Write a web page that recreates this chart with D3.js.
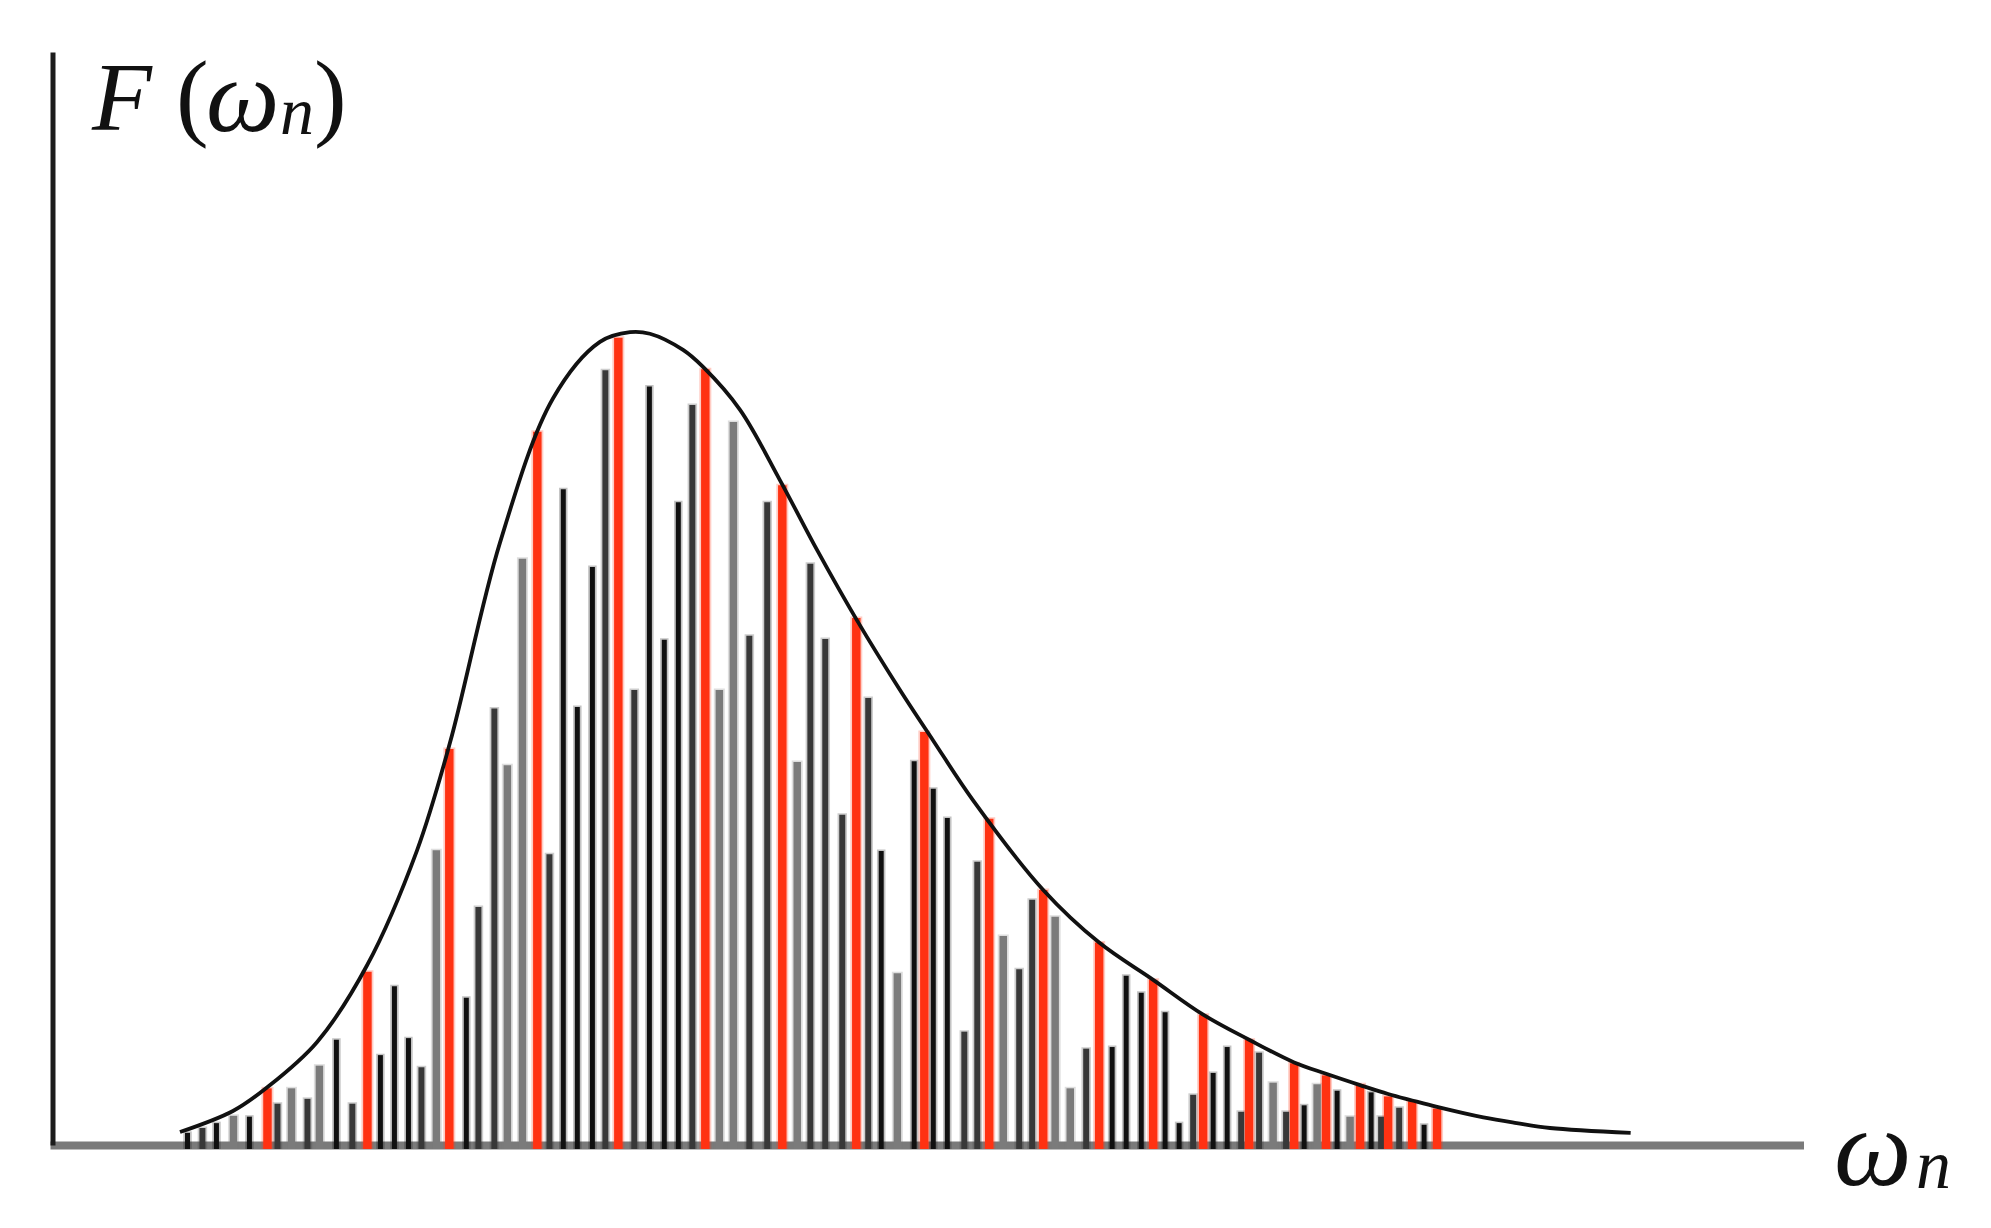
<!DOCTYPE html>
<html>
<head>
<meta charset="utf-8">
<script src="https://cdn.jsdelivr.net/npm/d3@7"></script>
<style>
  body { margin: 0; background: #fff; }
  svg { display: block; }
  .label { font-family: "Liberation Serif", "DejaVu Serif", serif; fill: #111; }
</style>
</head>
<body>
<svg id="chart"></svg>
<script>
// bar positions (omega, axis units 0..100)
const barOmega = [
  7.70, 8.55, 9.35, 10.32, 11.23, 12.26, 12.83, 13.63, 14.54, 15.22,
  16.19, 17.10, 17.96, 18.70, 19.50, 20.30, 21.04, 21.89, 22.63, 23.60,
  24.29, 25.20, 25.94, 26.80, 27.65, 28.34, 29.13, 29.93, 30.79, 31.53,
  32.27, 33.18, 34.04, 34.89, 35.69, 36.49, 37.23, 38.03, 38.83, 39.74,
  40.76, 41.62, 42.47, 43.22, 44.07, 45.04, 45.84, 46.52, 47.26, 48.18,
  49.14, 49.72, 50.23, 51.03, 52.00, 52.74, 53.42, 54.22, 55.13, 55.87,
  56.50, 57.18, 58.04, 58.95, 59.69, 60.43, 61.23, 62.09, 62.77, 63.45,
  64.25, 65.05, 65.62, 66.19, 66.99, 67.79, 68.24, 68.81, 69.61, 70.35,
  70.81, 71.38, 72.12, 72.63, 73.26, 74.00, 74.57, 75.20, 75.77, 76.17,
  76.80, 77.54, 78.22, 78.96
];
// bar heights F(omega_n), peak of the envelope ~ 1
const barHeight = [
  0.015, 0.021, 0.027, 0.036, 0.035, 0.070, 0.051, 0.070, 0.057, 0.098,
  0.130, 0.051, 0.214, 0.111, 0.196, 0.132, 0.096, 0.364, 0.489, 0.182,
  0.294, 0.539, 0.469, 0.724, 0.881, 0.359, 0.810, 0.541, 0.714, 0.957,
  0.997, 0.562, 0.937, 0.624, 0.794, 0.914, 0.958, 0.562, 0.893, 0.629,
  0.794, 0.815, 0.473, 0.718, 0.625, 0.408, 0.651, 0.552, 0.363, 0.212,
  0.474, 0.510, 0.440, 0.404, 0.140, 0.350, 0.403, 0.258, 0.217, 0.303,
  0.315, 0.282, 0.070, 0.119, 0.250, 0.121, 0.209, 0.188, 0.204, 0.164,
  0.027, 0.062, 0.161, 0.089, 0.121, 0.041, 0.130, 0.114, 0.077, 0.041,
  0.101, 0.049, 0.075, 0.086, 0.067, 0.035, 0.075, 0.065, 0.035, 0.060,
  0.046, 0.054, 0.025, 0.045
];
// k = black, d = dark grey, g = grey, r = red (on the envelope)
const barTone = [
  'k','d','k','g','k','r','d','g','d','g',
  'k','d','r','k','k','k','d','g','r','k',
  'd','d','g','g','r','d','k','k','k','d',
  'r','d','k','k','k','d','r','g','g','d',
  'd','r','g','d','d','d','r','d','k','g',
  'k','r','k','k','d','d','r','g','d','d',
  'r','g','g','d','r','k','k','k','r','k',
  'k','d','r','k','k','d','r','d','g','d',
  'r','k','g','r','k','g','r','k','d','r',
  'd','r','k','r'
];

// envelope curve F(omega)
const curveOmega = [7.27, 10.29, 12.23, 15.08, 17.94, 20.79, 22.67, 25.52, 28.54,
  31.22, 32.93, 34.07, 35.96, 37.10, 39.21, 41.49, 43.60, 45.88, 48.33,
  50.21, 52.49, 56.50, 59.69, 62.77, 65.62, 68.24, 70.81, 72.63, 74.57,
  76.17, 77.54, 78.96, 81.6, 83.5, 85.4, 90.0];
const curveF = [0.016, 0.042, 0.071, 0.127, 0.222, 0.364, 0.497, 0.744, 0.922,
  0.992, 1.004, 1.002, 0.982, 0.961, 0.908, 0.821, 0.735, 0.648, 0.562,
  0.500, 0.426, 0.315, 0.250, 0.204, 0.161, 0.130, 0.102, 0.088, 0.074,
  0.063, 0.055, 0.047, 0.034, 0.027, 0.021, 0.015];

const toneColor = { k: '#101010', d: '#383838', g: '#7b7b7b', r: '#ff3212' };
const toneWidth = { k: 5, d: 6, g: 7.5, r: 8.5 };

const width = 1991, height = 1228;
const margin = { top: 52, right: 185, bottom: 83, left: 52.5 };

const svg = d3.select('#chart')
  .attr('width', width)
  .attr('height', height);

const xScale = d3.scaleLinear().domain([0, 100]).range([margin.left, width - margin.right]);
const yScale = d3.scaleLinear().domain([0, 1.35]).range([height - margin.bottom, margin.top]);

// x axis: thick grey baseline, no ticks
const xAxis = d3.axisBottom(xScale).tickValues([]).tickSizeOuter(0);
svg.append('g')
  .attr('class', 'x-axis')
  .attr('transform', `translate(-2.5,${yScale(0)})`)
  .call(xAxis)
  .select('.domain')
    .attr('stroke', '#7a7a7a')
    .attr('stroke-width', 8);

// y axis: black line
const yAxis = d3.axisLeft(yScale).tickValues([]).tickSizeOuter(0);
svg.append('g')
  .attr('class', 'y-axis')
  .attr('transform', `translate(${xScale(0)},0)`)
  .call(yAxis)
  .select('.domain')
    .attr('stroke', '#1c1c1c')
    .attr('stroke-width', 5);

const bars = barOmega.map((w, i) => ({ w: w, f: barHeight[i], t: barTone[i] }));

const barG = svg.append('g').attr('class', 'bars');

// soft fringe, like the blurred bars of the scan
barG.selectAll('line.fringe')
  .data(bars)
  .join('line')
    .attr('class', 'fringe')
    .attr('x1', d => xScale(d.w))
    .attr('x2', d => xScale(d.w))
    .attr('y1', yScale(0) + 4)
    .attr('y2', d => yScale(d.f) - 1.5)
    .attr('stroke', d => toneColor[d.t])
    .attr('stroke-opacity', 0.25)
    .attr('stroke-width', d => toneWidth[d.t] + 3.5);

barG.selectAll('line.bar')
  .data(bars)
  .join('line')
    .attr('class', 'bar')
    .attr('x1', d => xScale(d.w))
    .attr('x2', d => xScale(d.w))
    .attr('y1', yScale(0) + 4)
    .attr('y2', d => yScale(d.f))
    .attr('stroke', d => toneColor[d.t])
    .attr('stroke-width', d => toneWidth[d.t]);

const envelope = d3.line()
  .x((d, i) => xScale(curveOmega[i]))
  .y(d => yScale(d))
  .curve(d3.curveCatmullRom.alpha(0.5));

svg.append('path')
  .datum(curveF)
  .attr('fill', 'none')
  .attr('stroke', '#111')
  .attr('stroke-width', 3.8)
  .attr('d', envelope);

// y label F(omega_n)
const yLab = svg.append('g').attr('class', 'label');
yLab.append('text').attr('x', 92).attr('y', 130)
  .attr('font-size', 98).attr('font-style', 'italic').text('F');
yLab.append('text').attr('x', 176).attr('y', 128)
  .attr('font-size', 98).text('(');
yLab.append('text').attr('x', 206).attr('y', 131)
  .attr('font-size', 104).attr('font-style', 'italic').text('ω');
yLab.append('text').attr('x', 280).attr('y', 134)
  .attr('font-size', 68).attr('font-style', 'italic').text('n');
yLab.append('text').attr('x', 314).attr('y', 128)
  .attr('font-size', 98).text(')');

// x label omega_n
const xLab = svg.append('g').attr('class', 'label');
xLab.append('text').attr('x', 1834).attr('y', 1185)
  .attr('font-size', 110).attr('font-style', 'italic').text('ω');
xLab.append('text').attr('x', 1916).attr('y', 1188)
  .attr('font-size', 70).attr('font-style', 'italic').text('n');
</script>
</body>
</html>
